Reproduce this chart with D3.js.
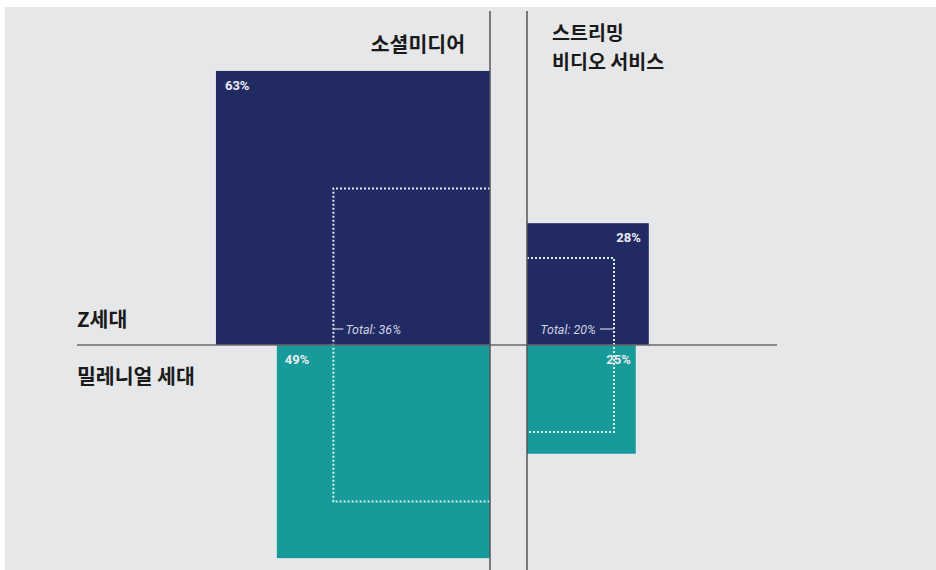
<!DOCTYPE html>
<html>
<head>
<meta charset="utf-8">
<script src="https://cdn.jsdelivr.net/npm/d3@7"></script>
<style>
  body { margin: 0; background: #fff; }
  .panel-title, .row-label { font-family: "Noto Sans CJK KR", sans-serif; font-weight: 700; font-size: 20.5px; fill: #1a1a1a; }
  .panel-title.two { font-size: 19.5px; }
  .pct { font-family: "Roboto", sans-serif; font-weight: 700; font-size: 13px; fill: #ececf2; }
  .total { font-family: "Roboto", sans-serif; font-style: italic; font-size: 12.5px; fill: #cfd2e2; }
</style>
</head>
<body>
<svg id="chart" width="936" height="570"></svg>
<script>
// ========= data =========
const panels = ["소셜미디어", "스트리밍 비디오 서비스"];
const genZ = [63, 28];
const millennial = [49, 25];
const totals = [36, 20];
const rowLabels = ["Z세대", "밀레니얼 세대"];

const navy = "#222a63";
const teal = "#169b9a";

const svg = d3.select("#chart");

svg.append("rect")
    .attr("x", 5).attr("y", 7)
    .attr("width", 931).attr("height", 563)
    .attr("fill", "#e6e7e9");

// side of each square is linear in percent
const size = d3.scaleLinear().domain([0, 100]).range([0, 435]);

const axisY = 345;
const anchors = [490, 527];   // left panel grows leftwards, right panel rightwards
const dirs = [-1, 1];

function boxX(i, v) {
    return dirs[i] < 0 ? anchors[i] - size(v) : anchors[i];
}

const g = svg.append("g");

// squares
panels.forEach((p, i) => {
    g.append("rect")
        .attr("x", boxX(i, genZ[i]))
        .attr("y", axisY - size(genZ[i]))
        .attr("width", size(genZ[i]))
        .attr("height", size(genZ[i]))
        .attr("fill", navy);

    g.append("rect")
        .attr("x", boxX(i, millennial[i]))
        .attr("y", axisY)
        .attr("width", size(millennial[i]))
        .attr("height", size(millennial[i]))
        .attr("fill", teal);

    // dotted total outline (open on the anchor side)
    const t = size(totals[i]);
    const far = anchors[i] + dirs[i] * t;
    const path = d3.path();
    path.moveTo(anchors[i], axisY - t);
    path.lineTo(far, axisY - t);
    path.lineTo(far, axisY + t);
    path.lineTo(anchors[i], axisY + t);
    g.append("path")
        .attr("d", path.toString())
        .attr("fill", "none")
        .attr("stroke", "#d8f0f0")
        .attr("stroke-width", 2)
        .attr("stroke-dasharray", "2,2");
});

// percent labels
g.append("text").attr("class", "pct")
    .attr("x", boxX(0, genZ[0]) + 9).attr("y", axisY - size(genZ[0]) + 19)
    .text(genZ[0] + "%");
g.append("text").attr("class", "pct")
    .attr("x", boxX(0, millennial[0]) + 8).attr("y", axisY + 19)
    .text(millennial[0] + "%");
g.append("text").attr("class", "pct").attr("text-anchor", "end")
    .attr("x", boxX(1, genZ[1]) + size(genZ[1]) - 8).attr("y", axisY - size(genZ[1]) + 19)
    .text(genZ[1] + "%");
g.append("text").attr("class", "pct").attr("text-anchor", "end")
    .attr("x", boxX(1, millennial[1]) + size(millennial[1]) - 5).attr("y", axisY + 19)
    .text(millennial[1] + "%");

// total labels with tick
const tLeft = anchors[0] - size(totals[0]);
g.append("line")
    .attr("x1", tLeft).attr("x2", tLeft + 10)
    .attr("y1", axisY - 16).attr("y2", axisY - 16)
    .attr("stroke", "#cfd2e2").attr("stroke-width", 1.2);
g.append("text").attr("class", "total")
    .attr("x", tLeft + 12).attr("y", axisY - 11)
    .text("Total: " + totals[0] + "%");

const tRight = anchors[1] + size(totals[1]);
g.append("line")
    .attr("x1", tRight - 14).attr("x2", tRight)
    .attr("y1", axisY - 16).attr("y2", axisY - 16)
    .attr("stroke", "#cfd2e2").attr("stroke-width", 1.2);
g.append("text").attr("class", "total").attr("text-anchor", "end")
    .attr("x", tRight - 18).attr("y", axisY - 11)
    .text("Total: " + totals[1] + "%");

// axis lines
g.append("line")
    .attr("x1", 77).attr("x2", 777)
    .attr("y1", axisY).attr("y2", axisY)
    .attr("stroke", "#6a6a6a").attr("stroke-width", 1.5);

anchors.forEach(a => {
    g.append("line")
        .attr("x1", a).attr("x2", a)
        .attr("y1", 11).attr("y2", 570)
        .attr("stroke", "#555").attr("stroke-width", 1.5);
});

// titles
g.append("text").attr("class", "panel-title")
    .attr("text-anchor", "end")
    .attr("x", 465).attr("y", 52)
    .text(panels[0]);

const rightTitle = ["스트리밍", "비디오 서비스"];
rightTitle.forEach((line, k) => {
    g.append("text").attr("class", "panel-title two")
        .attr("x", 552).attr("y", 40 + k * 28.5)
        .text(line);
});

// row labels
g.append("text").attr("class", "row-label")
    .attr("x", 77).attr("y", 327)
    .text(rowLabels[0]);
g.append("text").attr("class", "row-label")
    .attr("x", 77).attr("y", 384)
    .text(rowLabels[1]);
</script>
</body>
</html>
